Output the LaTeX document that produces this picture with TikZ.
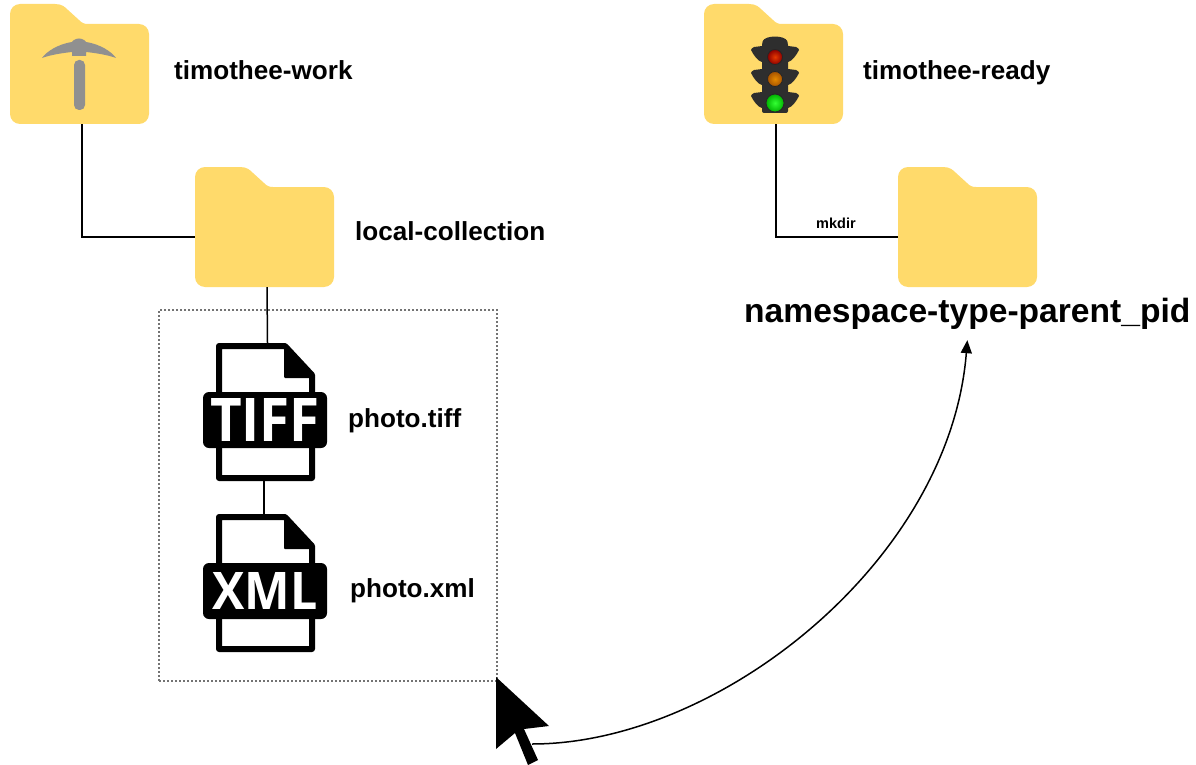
\documentclass[tikz,border=0pt]{standalone}
\usepackage{fontspec}
\usepackage{graphicx}
\setmainfont{Liberation Sans}
\newfontfamily\iconfont{Open Sans}
\usetikzlibrary{arrows.meta}
\definecolor{folderyellow}{HTML}{FFDA6B}
\definecolor{pickgray}{HTML}{909090}
\definecolor{lightdark}{HTML}{2E2E2E}
\tikzset{
  x=1pt,y=-1pt,
  conn/.style={draw=black,line width=1.5pt},
  txtlabel/.style={anchor=base west,inner sep=0pt,font=\bfseries\fontsize{26.1}{30}\selectfont},
  folderbox/.style={inner sep=0pt,minimum width=139pt,minimum height=120pt},
  filebox/.style={inner sep=0pt,minimum width=99pt,minimum height=138pt},
  lamp/.style={circle,inner sep=0pt,minimum size=15pt,draw=black!85,line width=0.8pt}
}
% #1 name, #2 left x, #3 top y
\newcommand{\myfolder}[3]{%
  \fill[folderyellow]
    (#2,#3+10) .. controls (#2,#3+4.5) and (#2+4.5,#3) .. (#2+10,#3)
    -- (#2+45,#3) .. controls (#2+52,#3) and (#2+55,#3+3) .. (#2+58,#3+6)
    -- (#2+69,#3+16) .. controls (#2+72,#3+19) and (#2+74,#3+20) .. (#2+78,#3+20)
    -- (#2+129,#3+20) .. controls (#2+134.5,#3+20) and (#2+139,#3+24.5) .. (#2+139,#3+30)
    -- (#2+139,#3+110) .. controls (#2+139,#3+115.5) and (#2+134.5,#3+120) .. (#2+129,#3+120)
    -- (#2+10,#3+120) .. controls (#2+4.5,#3+120) and (#2,#3+115.5) .. (#2,#3+110)
    -- cycle;
  \node[folderbox] (#1) at (#2+69.5,#3+60) {};
}
% #1 name, #2 top y, #3 text, #4 text width, #5 text height
\newcommand{\myfile}[5]{%
  \draw[line width=6pt,line join=round,fill=white]
    (219,#2+3) -- (285,#2+3) -- (312,#2+32) -- (312,#2+135) -- (219,#2+135) -- cycle;
  \fill[black,rounded corners=1pt] (284,#2+3) -- (315,#2+35) -- (315,#2+35) -- (284,#2+35) -- cycle;
  \node[filebox] (#1) at (265.5,#2+69) {};
  \fill[black,rounded corners=6pt] (203,#2+49) rectangle (327,#2+105);
  \node[inner sep=0pt,text=white,font=\iconfont\bfseries] at (265,#2+77) {\resizebox{#4pt}{#5pt}{#3}};
}
% #1 top y of a wing pair
\newcommand{\mywings}[1]{%
  \fill[lightdark] (762,#1) -- (754,#1+1) .. controls (752,#1+2) and (751,#1+3) .. (751,#1+4)
     .. controls (754,#1+10) and (758,#1+15) .. (762,#1+16) -- cycle;
  \fill[lightdark] (788,#1) -- (796,#1+1) .. controls (798,#1+2) and (799,#1+3) .. (799,#1+4)
     .. controls (796,#1+10) and (792,#1+15) .. (788,#1+16) -- cycle;
}
\begin{document}
\begin{tikzpicture}
\useasboundingbox (0,0) rectangle (1196,765);
\fill[white] (0,0) rectangle (1196,765);

% folders
\myfolder{work}{10}{4}
\myfolder{ready}{704}{4}
\myfolder{local}{195}{167}
\myfolder{nsfolder}{898}{167}

% dotted selection box
\node[draw=black!55,line width=1.3pt,dash pattern=on 2pt off 2pt,inner sep=0pt,minimum width=338pt,minimum height=371pt] (box) at (328,495.5) {};

% files
\myfile{tiff}{343}{TIFF}{110}{43}
\myfile{xml}{514}{XML}{105}{37}

% connectors
\draw[conn] ([xshift=2.5pt]work.south) |- ([yshift=-10pt]local.west);
\draw[conn] ([xshift=2.5pt]ready.south) |- ([yshift=-10pt]nsfolder.west);
\draw[conn] ([xshift=2.5pt]local.south) -- ([xshift=2pt]tiff.north);
\draw[conn] ([xshift=-1.5pt]tiff.south) -- ([xshift=-1.5pt]xml.north);

% pickaxe
\fill[pickgray] (42,58) .. controls (46,52) and (58,44) .. (72,42) -- (74,40)
  .. controls (77,38) and (81,38) .. (84,40) -- (86,42)
  .. controls (100,44) and (112,52) .. (116,58)
  .. controls (108,55) and (96,53) .. (86,52) -- (86,56) -- (72,56) -- (72,52)
  .. controls (62,53) and (50,55) .. (42,58) -- cycle;
\fill[pickgray,rounded corners=5pt] (74,60) rectangle (85,110);

% traffic light
\mywings{46}
\mywings{69}
\mywings{92}
\fill[lightdark,rounded corners=2pt] (762,43) .. controls (765,35) and (785,35) .. (788,43) -- (788,113) -- (762,113) -- cycle;
\node[lamp,inner color=red!75!yellow!90!black,outer color=red!55!black] (redlamp) at (775,57) {};
\node[lamp,inner color=orange!80!yellow!90!black,outer color=orange!65!black] (amberlamp) at (775,79) {};
\node[lamp,minimum size=18pt,inner color=green!80!white,outer color=green!70!black] (greenlamp) at (775,103) {};

% cursor
\fill[black] (496,677) -- (549,726) -- (524,729) -- (538,760) -- (528,765) -- (515,733) -- (496,749) -- cycle;
\node[inner sep=0pt,minimum size=0pt] (cursor) at (532,744) {};

% labels
\node[txtlabel] (lwork) at (174,79.5) {timothee-work};
\node[txtlabel] (lready) at (863,79.5) {timothee-ready};
\node[txtlabel] (llocal) at (355,240.5) {local-collection};
\node[txtlabel] (ltiff) at (348,427) {photo.tiff};
\node[txtlabel] (lxml) at (350,597) {photo.xml};
\node[txtlabel,font=\bfseries\fontsize{33.6}{38}\selectfont] (ns) at (744,322) {namespace-type-parent\_pid};
\node[txtlabel,font=\bfseries\fontsize{14.5}{17}\selectfont] (mkdir) at (816,228) {mkdir};

% curved arrow
\draw[line width=1.5pt,-{Triangle[length=13pt,width=11pt]}] (cursor.center)
  .. controls (720,744) and (950,560) .. ([yshift=-11pt]ns.south);
\end{tikzpicture}
\end{document}
